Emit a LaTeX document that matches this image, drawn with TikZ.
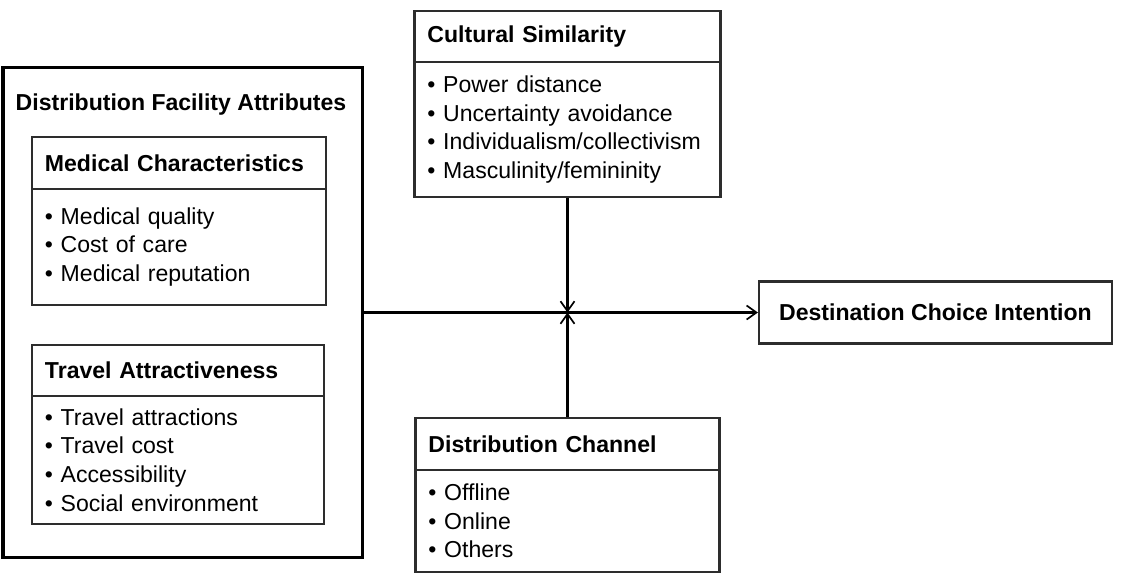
\documentclass[tikz,border=0pt]{standalone}
\usepackage{fontspec}
\setmainfont{Liberation Sans}
\usepackage{tikz}
\usetikzlibrary{arrows.meta}
\definecolor{boxclr}{RGB}{45,45,45}
\newcommand{\diagfont}{\fontsize{16.4pt}{20.3pt}\selectfont}
\newcommand{\diagbold}{\fontsize{16.4pt}{20.3pt}\selectfont\bfseries}

\begin{document}
\begin{tikzpicture}[
    x=0.025cm,
    y=-0.025cm,
    font=\diagfont,
    headbox/.style={draw=boxclr, line width=1.5pt, inner xsep=0.325cm, text width=#1, minimum height=1.3cm, align=left, font=\diagbold},
    listbox/.style={draw=boxclr, line width=1.5pt, inner xsep=0.325cm, text width=#1, align=left},
    outerbox/.style={draw=black, line width=2.2pt, minimum width=8.975cm, minimum height=12.225cm},
    resultbox/.style={draw=boxclr, line width=1.5pt, minimum width=8.825cm, minimum height=1.55cm, align=center, font=\diagbold},
    flow/.style={-{Straight Barb[length=7pt, width=10pt, line width=1.2pt]}, line width=1.6pt}
]
\useasboundingbox (0,0) rectangle (1132,575);

% Distribution facility attributes.
\node[outerbox] (facility) at (182.5, 312.5) {};
\node[font=\diagbold] (facility_title) at (181, 105) {Distribution Facility Attributes};

\node[headbox=6.7cm] (med_head) at (179, 163) {Medical Characteristics};
\node[listbox=6.7cm, minimum height=2.9cm] (med_body) at (179, 247) {• Medical quality\\• Cost of care\\• Medical reputation};

\node[headbox=6.65cm, minimum height=1.275cm] (travel_head) at (178, 370.5) {Travel Attractiveness};
\node[listbox=6.65cm, minimum height=3.2cm] (travel_body) at (178, 460) {• Travel attractions\\• Travel cost\\• Accessibility\\• Social environment};

% Moderators.
\node[headbox=7.0cm, minimum height=1.275cm] (culture_head) at (567.5, 36.5) {Cultural Similarity};
\node[listbox=7.0cm, minimum height=3.375cm] (culture_body) at (567.5, 129.5) {• Power distance\\• Uncertainty avoidance\\• Individualism/collectivism\\• Masculinity/femininity};

\node[headbox=6.95cm] (channel_head) at (567.5, 444) {Distribution Channel};
\node[listbox=6.95cm, minimum height=2.55cm] (channel_body) at (567.5, 521) {• Offline\\• Online\\• Others};

% Outcome.
\node[resultbox] (dest) at (935.5, 312.5) {Destination Choice Intention};

% Links.
\coordinate (cross) at (culture_body.south |- dest.west);
\draw[flow] (facility.east) -- (dest.west);
\draw[flow] (culture_body.south) -- (cross);
\draw[flow] (channel_head.north) -- (cross);

\end{tikzpicture}
\end{document}
